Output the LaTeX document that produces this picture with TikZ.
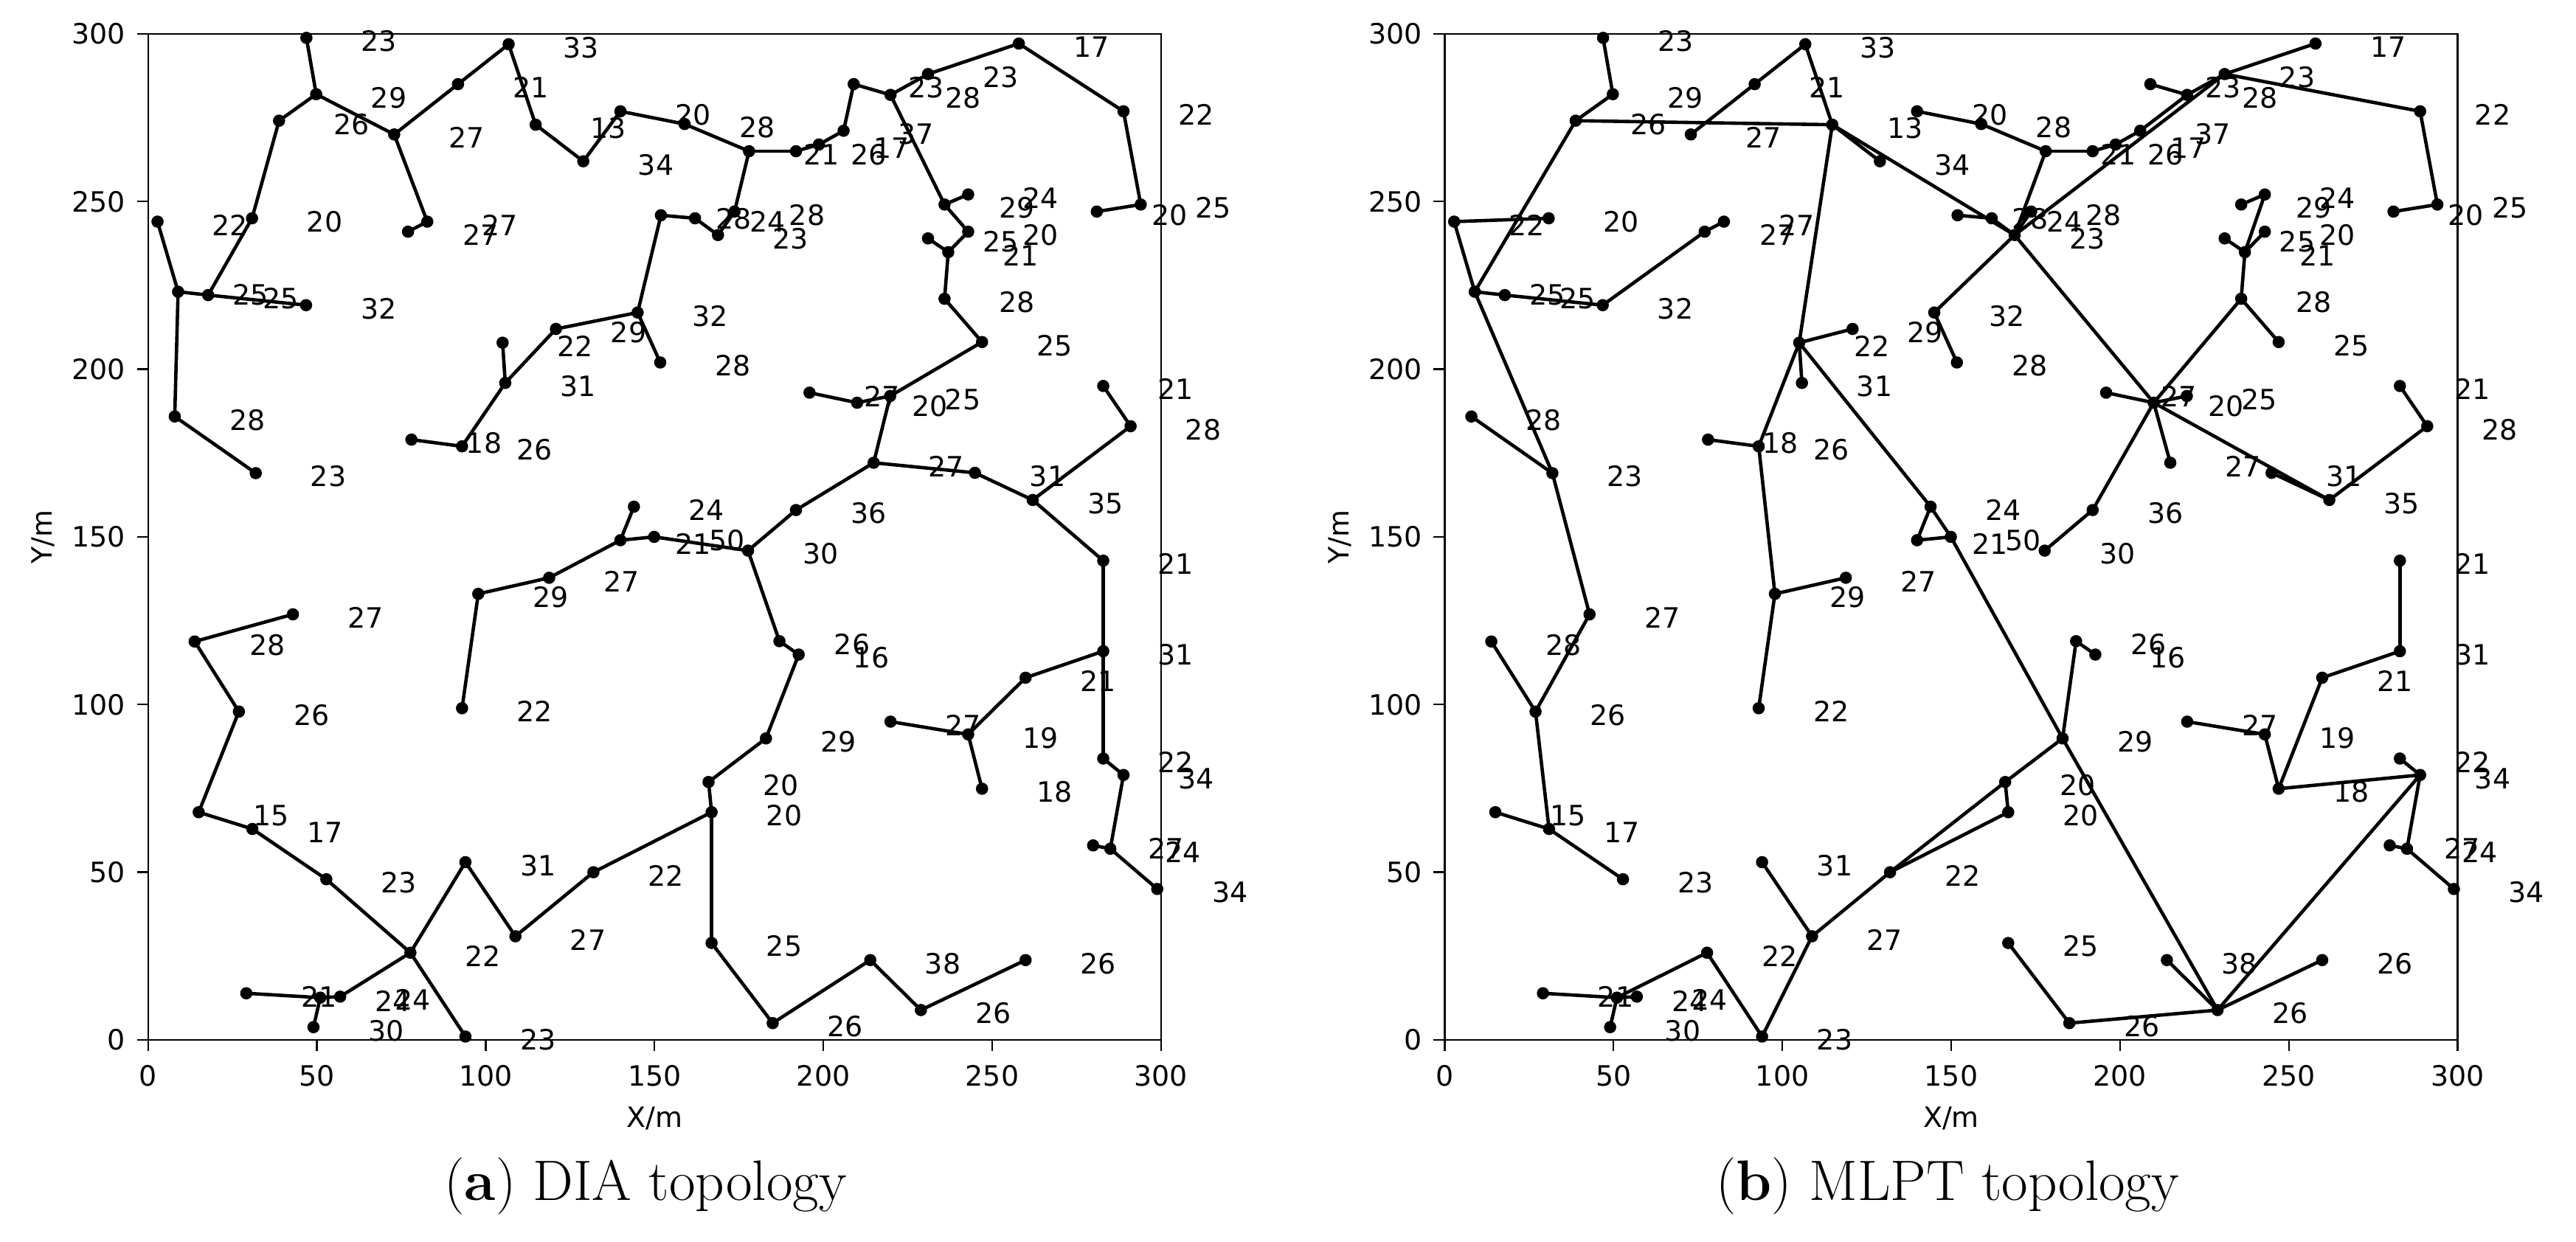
\documentclass[tikz,border=0pt]{standalone}
\usepackage{fontspec}
\newfontfamily\dv{DejaVu Sans}
\usetikzlibrary{calc}
\tikzset{
  edge/.style={line width=0.46mm, line cap=round},
  frame/.style={line width=0.23mm},
  ptlabel/.style={font=\dv\fontsize{10.8}{12}\selectfont, inner sep=0pt, anchor=center},
  ticklab/.style={font=\dv\fontsize{10.8}{12}\selectfont, inner sep=0pt},
  capt/.style={font=\fontsize{22}{26}\selectfont, inner sep=0pt, anchor=base},
  plotscope/.style={x=0.4577mm, y=0.4547mm},
}
\def\ptlist{P1/46.9/298.8/23,P2/49.8/282.0/29,P3/38.8/274.1/26,P4/30.8/245.0/20,P5/2.8/244.0/22,P6/8.9/223.1/25,P7/17.8/222.1/25,P8/46.8/219.1/32,P9/7.9/185.9/28,P10/31.9/169.0/23,P11/72.9/270.0/27,P12/91.8/285.0/21,P13/106.8/296.9/33,P14/114.8/272.9/13,P15/128.9/262.0/34,P16/139.9/276.9/20,P17/82.7/244.0/27,P18/77.0/241.0/27,P19/151.9/245.9/28,P20/145.0/216.9/32,P21/151.7/202.0/28,P22/120.8/212.0/29,P23/105.8/195.9/31,P24/105.0/207.9/22,P25/93.0/177.0/26,P26/78.0/179.0/18,P27/143.9/159.0/24,P28/139.9/149.0/21,P29/149.9/150.0/50,Q1/158.9/273.1/28,Q2/178.0/265.0/21,Q3/191.9/265.0/26,Q4/198.7/267.0/17,Q5/206.0/271.1/37,Q6/209.0/285.0/23,Q7/219.9/281.8/28,Q8/231.0/288.0/23,Q9/257.9/297.1/17,Q10/288.9/276.9/22,Q11/294.0/249.1/25,Q12/281.0/247.0/20,Q13/235.9/249.1/29,Q14/242.9/252.1/24,Q15/242.9/241.0/20,Q16/237.0/234.9/21,Q17/231.0/239.0/25,Q18/235.9/221.0/28,Q19/247.0/208.1/25,Q20/219.8/192.0/25,Q21/210.0/190.0/20,Q22/195.9/193.0/27,Q23/214.9/172.1/27,Q24/244.9/169.1/31,Q25/262.0/161.0/35,Q26/291.0/183.0/28,Q27/282.9/195.0/21,Q28/191.9/158.0/36,Q29/177.7/145.9/30,Q31/162.0/245.0/24,Q32/168.8/240.0/23,Q33/173.7/247.0/28,R3/187.0/118.9/26,R4/192.7/114.9/16,R5/183.0/89.9/29,R6/166.0/76.9/20,R7/166.9/67.9/20,R8/166.9/28.9/25,R9/185.0/5.0/26,R10/213.9/23.8/38,R11/228.9/8.9/26,R12/259.9/23.8/26,R13/219.9/94.9/27,R14/242.9/91.1/19,R15/247.0/74.9/18,R16/259.9/108.0/21,R17/282.9/115.9/31,R18/282.9/142.9/21,R19/282.9/83.9/22,R20/288.9/79.0/34,R21/285.0/57.0/24,R22/279.9/58.0/27,R23/298.9/45.0/34,S3/118.8/137.8/27,S4/97.8/133.0/29,S5/93.0/98.9/22,S6/42.9/126.9/27,S7/13.8/118.8/28,S8/26.9/97.9/26,S9/15.0/67.9/15,S10/30.9/62.9/17,S11/52.8/47.9/23,S12/77.7/26.0/22,S13/94.0/53.0/31,S14/108.8/30.9/27,S15/131.9/50.0/22,S16/56.9/12.9/24,S17/51.0/12.6/24,S18/29.1/13.9/21,S19/49.0/3.8/30,S20/94.0/1.0/23}
\def\leftedges{P1/P2,P2/P3,P3/P4,P4/P7,P5/P6,P6/P7,P7/P8,P6/P9,P9/P10,P2/P11,P11/P12,P12/P13,P13/P14,P14/P15,P15/P16,P16/Q1,P11/P17,P17/P18,P19/P20,P20/P21,P20/P22,P22/P23,P23/P24,P23/P25,P25/P26,P27/P28,P28/P29,P28/S3,P19/Q31,Q31/Q32,Q32/Q33,Q33/Q2,Q1/Q2,Q2/Q3,Q3/Q4,Q4/Q5,Q5/Q6,Q6/Q7,Q7/Q8,Q8/Q9,Q9/Q10,Q10/Q11,Q11/Q12,Q7/Q13,Q13/Q14,Q13/Q15,Q15/Q16,Q16/Q17,Q16/Q18,Q18/Q19,Q19/Q20,Q20/Q21,Q21/Q22,Q20/Q23,Q23/Q24,Q24/Q25,Q25/Q26,Q26/Q27,Q23/Q28,Q28/Q29,Q25/R18,P29/Q29,Q29/R3,R3/R4,R4/R5,R5/R6,R6/R7,R7/R8,R8/R9,R9/R10,R10/R11,R11/R12,R7/S15,R13/R14,R14/R15,R14/R16,R16/R17,R17/R18,R17/R19,R19/R20,R20/R21,R21/R22,R21/R23,S3/S4,S4/S5,S6/S7,S7/S8,S8/S9,S9/S10,S10/S11,S11/S12,S12/S13,S13/S14,S14/S15,S12/S16,S16/S17,S17/S18,S17/S19,S12/S20}
\def\rightedges{P1/P2,P2/P3,P3/P14,P11/P12,P12/P13,P13/P14,P14/P15,P14/Q32,P3/P6,P4/P5,P5/P6,P6/P7,P7/P8,P8/P18,P17/P18,P6/P10,P9/P10,P14/P24,P22/P24,P23/P24,P24/P25,P25/P26,P24/P27,P27/P28,P28/P29,P27/P29,P20/P21,P16/Q1,Q1/Q2,Q2/Q3,Q3/Q4,Q4/Q5,Q5/Q7,Q6/Q7,Q7/Q8,Q8/Q9,Q8/Q10,Q10/Q11,Q11/Q12,Q2/Q32,Q32/Q33,Q31/Q32,P19/Q31,Q32/P20,Q32/Q21,Q32/Q8,Q21/Q22,Q21/Q20,Q21/Q18,Q21/Q23,Q21/Q25,Q24/Q25,Q21/Q28,Q18/Q16,Q16/Q17,Q16/Q15,Q16/Q14,Q13/Q14,Q18/Q19,Q25/Q26,Q26/Q27,Q28/Q29,P10/S6,S6/S8,S7/S8,S8/S10,S9/S10,S10/S11,P25/S4,S4/S3,S4/S5,S13/S14,S14/S15,S15/R6,S15/R7,S14/S20,S20/S12,S12/S17,S17/S16,S17/S18,S17/S19,P29/R5,R5/R11,R5/R3,R3/R4,R5/R6,R6/R7,R8/R9,R9/R11,R10/R11,R11/R12,R11/R20,R13/R14,R14/R15,R15/R16,R16/R17,R17/R18,R15/R20,R19/R20,R20/R21,R21/R22,R21/R23}
% draws one panel; #1 = name prefix, #2 = edge list
\newcommand\drawpanel[2]{%
  \foreach \n/\x/\y/\t in \ptlist {\coordinate (#1\n) at (\x,\y);}
  \foreach \a/\b in #2 {\draw[edge] (#1\a) -- (#1\b);}
  \foreach \n/\x/\y/\t in \ptlist {\fill (#1\n) circle[radius=0.83mm];}
  \foreach \n/\x/\y/\t in \ptlist {\node[ptlabel] (#1\n-lab) at (\x+21.5,\y-1) {\t};}
  \draw[frame] (0,0) rectangle (300,300);
  \foreach \v in {0,50,...,300} {
    \draw[frame] (\v,0) -- ++(0,-1.5mm);
    \node[ticklab, anchor=north] (#1xt\v) at ([yshift=-3.4mm]\v,0) {\v};
    \draw[frame] (0,\v) -- ++(-1.5mm,0);
    \node[ticklab, anchor=east] (#1yt\v) at ([xshift=-3.0mm]0,\v) {\v};
  }
  \node[ticklab, anchor=base] (#1xl) at ([yshift=-11.9mm]150,0) {X/m};
  \node[ticklab, anchor=base, rotate=90] (#1yl) at ([xshift=-13.0mm]0,150) {Y/m};
}
\begin{document}
\begin{tikzpicture}
\useasboundingbox (0,0) rectangle (349.2mm,168.4mm);
\fill[white] (0,0) rectangle (349.2mm,168.4mm);
\begin{scope}[plotscope, shift={(20.07mm,27.4mm)}]
  \drawpanel{L}{\leftedges}
\end{scope}
\begin{scope}[plotscope, shift={(195.84mm,27.4mm)}]
  \drawpanel{R}{\rightedges}
\end{scope}
\node[capt] (capa) at (87.5mm,5.6mm) {(\textbf{a}) DIA topology};
\node[capt] (capb) at (264.0mm,5.6mm) {(\textbf{b}) MLPT topology};
\end{tikzpicture}
\end{document}
